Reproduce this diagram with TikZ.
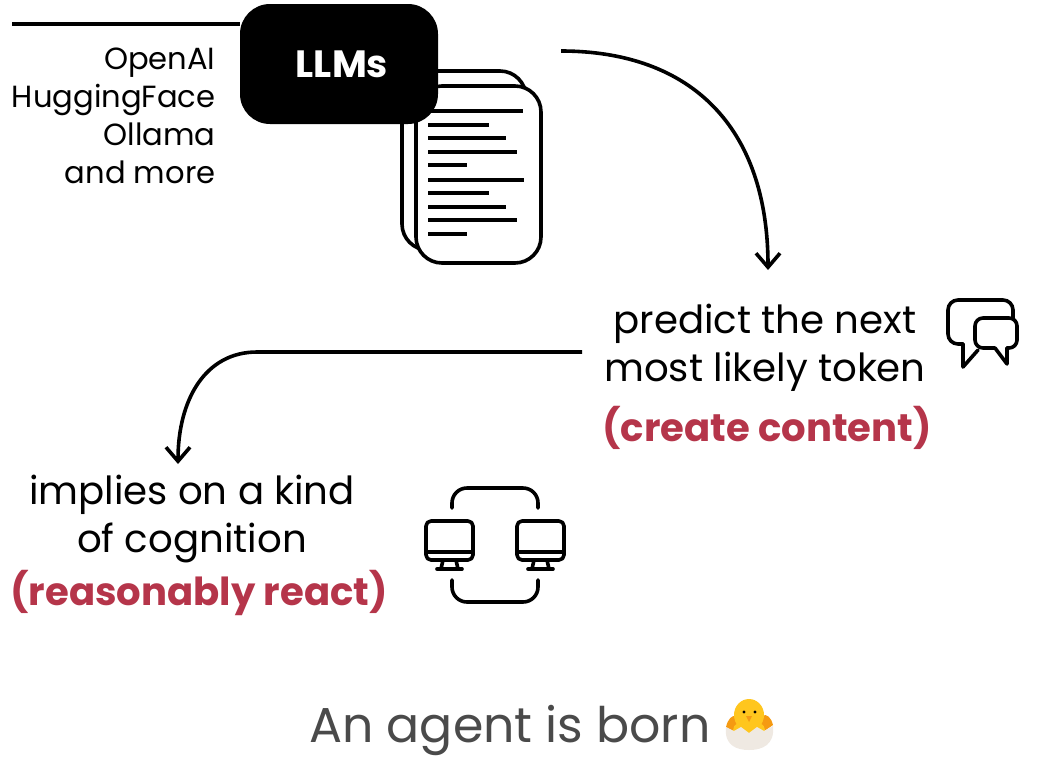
\documentclass[tikz,border=0pt]{standalone}
\usepackage{fontspec}
\setmainfont{Poppins}
\usetikzlibrary{arrows.meta, positioning}
\definecolor{accent}{HTML}{B5354A}
\definecolor{caption}{HTML}{4A4A4A}
\definecolor{chick}{HTML}{FFC61E}
\definecolor{wing}{HTML}{F59A12}
\definecolor{shell}{HTML}{EFE9E2}
\tikzset{
    iconline/.style={line width=3.6pt, line join=round, line cap=round},
    doclines/.style={line width=3.4pt},
    providers/.style={align=right, anchor=east, font=\fontsize{30.6}{38}\selectfont},
    body/.style={align=center, font=\fontsize{38.7}{48}\selectfont},
    highlight/.style={text=accent, font=\fontsize{38.6}{44}\selectfont\bfseries}
}
\begin{document}
\begin{tikzpicture}[x=1pt, y=-1pt, >={Straight Barb[length=14pt, width=24pt]}]
    \useasboundingbox (0,0) rectangle (1051,777);

    % Documents behind the black box
    \draw[iconline, rounded corners=26pt] (402,71) rectangle (526,250);
    \draw[iconline, fill=white, rounded corners=26pt] (416,86) rectangle (541,263);
    \foreach \ypos/\xend in {111/523, 125/489, 138/506, 152/517, 165/467, 180/524, 193/489, 207/506, 220/517, 234/467}
        \draw[doclines] (428,\ypos) -- (\xend,\ypos);

    % LLMs box and its rule
    \coordinate (rulestart) at (12,24);
    \node[fill=black, text=white, rounded corners=30pt, minimum width=198pt, minimum height=120pt,
          font=\fontsize{38}{44}\selectfont\bfseries] (llms) at (339,64) {\hspace*{6pt}LLMs};
    \draw[line width=3.6pt] (rulestart) -- (rulestart -| llms.west);

    \node[providers] (providers) at (219,116) {OpenAI\\HuggingFace\\Ollama\\and more};

    % Text blocks
    \node[body] (predict) at (765,348) {predict the next\\most likely token};
    \node[highlight] (create) at (767,428) {(create content)};
    \node[body] (implies) at (192,519) {implies on a kind\\of cognition};
    \node[highlight] (react) at (199,593) {(reasonably react)};
    \node[text=caption, font=\fontsize{49}{58}\selectfont] (born) at (510,730) {An agent is born};

    % Arrows
    \coordinate (outstart) at (561,51);
    \coordinate (outend) at (768,270);
    \coordinate (backstart) at (582,352);
    \coordinate (backend) at (178,464);
    \draw[->, line width=3.6pt] (outstart) .. controls (692,51) and (768,128) .. (outend);
    \draw[->, line width=3.6pt] (backstart) -- (257,352) .. controls (205,352) and (178,400) .. (backend);

    % Speech bubbles
    \draw[iconline, rounded corners=10pt] (1013,318) -- (1013,300) -- (948,300) -- (948,344) -- (963,344);
    \draw[iconline] (963,344) -- (963,367) -- (978,350);
    \draw[iconline] (1007,348) -- (1007,364) -- (995,348);
    \draw[iconline, rounded corners=8pt] (995,348) -- (975,348) -- (975,318) -- (1017,318) -- (1017,348) -- (1007,348);

    % Two monitors with links
    \foreach \xpos in {426,517} {
        \draw[iconline, rounded corners=5pt] (\xpos,521) rectangle ++(47,39);
        \draw[iconline] (\xpos,552) -- ++(47,0);
        \draw[iconline] (\xpos+17,560) -- (\xpos+15,569) -- (\xpos+32,569) -- (\xpos+30,560);
        \draw[iconline] (\xpos+11,569) -- ++(25,0);
    }
    \draw[iconline, rounded corners=15pt] (452,508) -- (452,488) -- (538,488) -- (538,508);
    \draw[iconline, rounded corners=15pt] (452,580) -- (452,602) -- (538,602) -- (538,580);

    % Hatching chick
    \fill[wing] (726,727) .. controls (730,710) and (742,714) .. (746,728) -- (738,734) -- cycle;
    \fill[wing] (773,725) .. controls (769,709) and (757,714) .. (752,728) -- (760,734) -- cycle;
    \fill[chick] (749,715) ellipse (15pt and 16pt);
    \fill[chick] (749,730) ellipse (16pt and 10pt);
    \fill[black] (744,712) circle (1.7pt) (755,712) circle (1.7pt);
    \fill[wing] (746,716) -- (752,716) -- (749,722) -- cycle;
    \fill[shell] (726,727) -- (734,731) -- (741,727) -- (749,733) -- (757,727) -- (764,731) -- (773,726)
        .. controls (775,745) and (762,750) .. (749,750) .. controls (736,750) and (724,745) .. (726,727) -- cycle;
\end{tikzpicture}
\end{document}
